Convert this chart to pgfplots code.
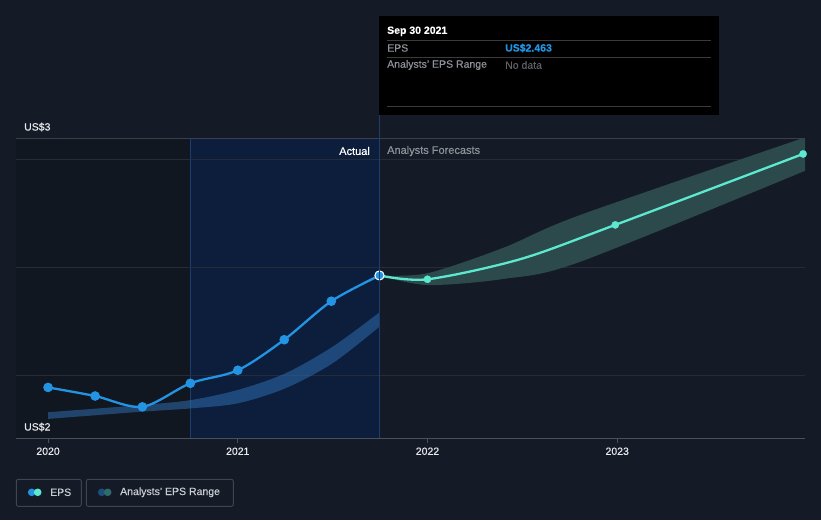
\documentclass[border=0pt]{standalone}
\usepackage{fontspec}
\setmainfont{Liberation Sans}[FakeBold=0.35]
\usepackage{pgfplots}
\pgfplotsset{compat=1.18}
\usepgfplotslibrary{fillbetween}
\definecolor{bg}{HTML}{151B26}
\definecolor{darkreg}{HTML}{111720}
\definecolor{bluereg}{HTML}{0C1E3B}
\definecolor{gridc}{HTML}{262C37}
\definecolor{topline}{HTML}{3A404B}
\definecolor{axisline}{HTML}{4A505B}
\definecolor{epsblue}{HTML}{2394E3}
\definecolor{epsteal}{HTML}{5DE8D0}
\definecolor{bandblue}{HTML}{2F72B8}
\definecolor{bandteal}{HTML}{2C4A4C}
\definecolor{vline}{HTML}{1E3D6C}
\definecolor{tickc}{HTML}{E8EAEE}
\definecolor{greytxt}{HTML}{8E929A}
\definecolor{ttline}{HTML}{3B3B3B}
\definecolor{nodata}{HTML}{5F6166}
\definecolor{legborder}{HTML}{41454F}
\definecolor{legtxt}{HTML}{C9CCD1}
\definecolor{legdb}{HTML}{1D4E7C}
\definecolor{legdt}{HTML}{2E6B6B}
\pagecolor{bg}
\begin{document}
\begin{tikzpicture}
\path (0,0) rectangle (821pt,520pt);
% x = years after 1 Jan 2020
\begin{axis}[
  at={(16pt,82pt)}, anchor=south west, scale only axis,
  width=789pt, height=299pt,
  xmin=-0.169, xmax=3.99, ymin=1.95, ymax=2.89,
  axis line style={draw=none},
  xtick={0,1,2,3}, xticklabels={2020,2021,2022,2023},
  x tick label style={font=\fontsize{10.5}{12}\selectfont, text=tickc, yshift=-1pt},
  tick align=outside, xtick pos=bottom, major tick length=5pt,
  x tick style={draw=axisline, line width=1pt},
  ytick={2.148,2.4845,2.824}, yticklabels={}, ymajorgrids,
  grid style={gridc, line width=1pt}, y tick style={draw=none},
]
\begin{pgfonlayer}{axis background}
  \fill[darkreg] (axis cs:-0.169,1.95) rectangle (axis cs:0.75,2.89);
  \fill[bluereg] (axis cs:0.75,1.95) rectangle (axis cs:1.747,2.89);
  \draw[vline, line width=0.8pt] (axis cs:0.75,1.95) -- (axis cs:0.75,2.89);
\end{pgfonlayer}
% past analysts' range
\addplot[name path=pu, draw=none, smooth, tension=0.5] coordinates {
 (0.0,2.031) (0.5,2.054) (0.75,2.069) (1.0,2.101) (1.25,2.153) (1.5,2.237) (1.747,2.345)};
\addplot[name path=pl, draw=none, smooth, tension=0.5] coordinates {
 (0.0,2.010) (0.5,2.033) (0.75,2.043) (1.0,2.059) (1.25,2.106) (1.5,2.185) (1.747,2.300)};
\addplot[bandblue, fill opacity=0.5, draw=none] fill between[of=pu and pl];
% forecast range
\addplot[name path=fu, draw=none, smooth, tension=0.5] coordinates {
 (1.747,2.461) (2.0,2.468) (2.4,2.548) (2.8,2.650) (3.99,2.895)};
\addplot[name path=fl, draw=none, smooth, tension=0.5] coordinates {
 (1.747,2.461) (2.0,2.431) (2.4,2.450) (2.8,2.503) (3.99,2.790)};
\addplot[bandteal, draw=none] fill between[of=fu and fl];
% forecast line
\addplot[epsteal, line width=2.3pt, smooth, tension=0.5] coordinates {
 (1.747,2.461) (2.0,2.449) (2.488,2.512) (2.99,2.620) (3.98,2.843)};
\addplot[only marks, mark=*, mark size=3.6pt, epsteal] coordinates {
 (2.0,2.449) (2.99,2.620) (3.98,2.843)};
% EPS actual
\addplot[epsblue, line width=2.3pt, smooth, tension=0.5, mark=*, mark size=3.6pt] coordinates {
 (0.0,2.109) (0.248,2.082) (0.497,2.048) (0.75,2.122) (1.0,2.163) (1.245,2.259) (1.493,2.380) (1.747,2.461)};
\addplot[only marks, mark=*, mark size=4.6pt, mark options={fill=epsblue, draw=white, line width=1pt}] coordinates {(1.747,2.461)};
\end{axis}
\begin{scope}[x=1pt,y=-1pt,yshift=520pt]
  \draw[topline, line width=1pt] (16,139) -- (805,139);
  \draw[axisline, line width=1pt] (16,438) -- (805,438);
  \draw[vline, line width=0.8pt] (379,115) -- (379,438);
  \node[anchor=west, inner sep=0, text=tickc, font=\fontsize{10.5}{12}\selectfont] at (24,127) {US\$3};
  \node[anchor=west, inner sep=0, text=tickc, font=\fontsize{10.5}{12}\selectfont] at (24,427) {US\$2};
  \node[anchor=east, inner sep=0, text=white, font=\fontsize{11}{13}\selectfont] at (370,151) {Actual};
  \node[anchor=west, inner sep=0, text=greytxt, font=\fontsize{11}{13}\selectfont] at (387,151) {Analysts Forecasts};
  \fill[black] (379,16) rectangle (719,115);
  \node[anchor=west, inner sep=0, text=white, font=\bfseries\fontsize{10.5}{12}\selectfont] at (387,31.3) {Sep 30 2021};
  \draw[ttline, line width=0.8pt] (387,40.3) -- (711,40.3);
  \node[anchor=west, inner sep=0, text=greytxt, font=\fontsize{10.5}{12}\selectfont] at (387,48) {EPS};
  \node[anchor=west, inner sep=0, text=epsblue, font=\bfseries\fontsize{10.5}{12}\selectfont] at (505,48) {US\$2.463};
  \draw[ttline, line width=0.8pt] (387,57.3) -- (711,57.3);
  \node[anchor=west, inner sep=0, text=greytxt, font=\fontsize{10.5}{12}\selectfont] at (387,65) {Analysts' EPS Range};
  \node[anchor=west, inner sep=0, text=nodata, font=\fontsize{10.5}{12}\selectfont] at (505,65) {No data};
  \draw[ttline, line width=0.8pt] (387,106.3) -- (711,106.3);
  \draw[legborder, line width=0.9pt, rounded corners=2pt] (16.3,479.3) rectangle (81.3,506.3);
  \draw[legborder, line width=0.9pt, rounded corners=2pt] (86.3,479.3) rectangle (233.3,506.3);
  \fill[epsblue] (31.7,492.3) circle (3.8);
  \fill[epsteal] (37.7,492.3) circle (3.8);
  \fill[legdb] (101.7,492.3) circle (3.8);
  \fill[legdt] (107.7,492.3) circle (3.8);
  \node[anchor=west, inner sep=0, text=legtxt, font=\fontsize{10.5}{12}\selectfont] at (50,492.3) {EPS};
  \node[anchor=west, inner sep=0, text=legtxt, font=\fontsize{10.5}{12}\selectfont] at (120,492.3) {Analysts' EPS Range};
\end{scope}
\useasboundingbox (0,0) rectangle (821pt,520pt);
\end{tikzpicture}
\end{document}
